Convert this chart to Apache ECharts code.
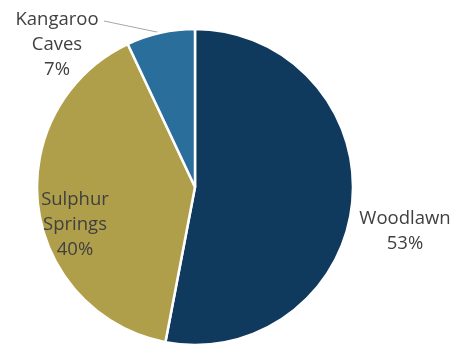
<!DOCTYPE html>
<html>
<head>
<meta charset="utf-8">
<script src="https://cdn.jsdelivr.net/npm/echarts@6/dist/echarts.min.js"></script>
<style>
  html, body { margin: 0; padding: 0; background: #fff; }
  #chart { width: 466px; height: 345px; }
</style>
</head>
<body>
<div id="chart"></div>
<script>
var names = ['Woodlawn', 'Sulphur\nSprings', 'Kangaroo\nCaves'];
var values = [53, 40, 7];
var colors = ['#0F3A5E', '#B09F4A', '#2A6E9C'];
var labelPlace = ['outside', 'inside', 'outside'];
// label centres
var labelPos = [[405, 231], [75, 225], [57, 45]];

var data = [];
for (var i = 0; i < names.length; i++) {
  data.push({
    name: names[i],
    value: values[i],
    itemStyle: { color: colors[i] },
    label: { position: labelPlace[i] },
    labelLine: { show: i === 2 }
  });
}

var chart = echarts.init(document.getElementById('chart'));
chart.setOption({
  animation: false,
  series: [{
    type: 'pie',
    radius: 158,
    center: [195, 187],
    startAngle: 90,
    clockwise: true,
    data: data,
    itemStyle: { borderColor: '#fff', borderWidth: 2.5 },
    label: {
      show: true,
      formatter: '{b}\n{d}%',
      color: '#404040',
      fontFamily: 'Open Sans',
      fontSize: 18.5,
      lineHeight: 25,
      align: 'center',
      overflow: 'none'
    },
    labelLine: {
      lineStyle: { color: '#A6A6A6', width: 1 },
      length: 10,
      length2: 10
    },
    labelLayout: function (p) {
      var pos = labelPos[p.dataIndex];
      var out = { x: pos[0], y: pos[1], align: 'center', verticalAlign: 'middle' };
      if (p.dataIndex === 2) {
        // leader line from slice edge to the end of the first label line
        var start = p.labelLinePoints[0];
        out.labelLinePoints = [start, [104, 21], [104, 21]];
      }
      return out;
    }
  }]
});
</script>
</body>
</html>
